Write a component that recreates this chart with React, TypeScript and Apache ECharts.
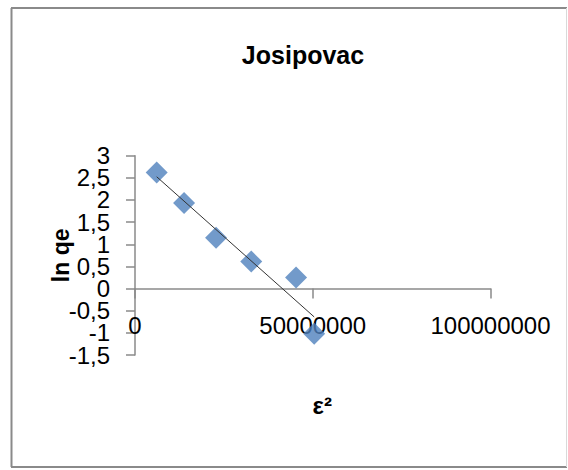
import React, { useEffect, useRef } from "react";
import * as echarts from "echarts";

const titleText = "Josipovac";
const xName = "ε²";
const yName = "ln qe";
const epsilonSquared = [6100000, 13800000, 22800000, 32700000, 45300000, 50400000];
const lnQe = [2.62, 1.93, 1.15, 0.61, 0.25, -1.02];
const yTicks = { min: -1.5, max: 3, interval: 0.5 };
const yLabelsA = [-1.5, -0.5, 0.5, 1.5, 2.5];
const yLabelsB = [-1, 0, 1, 2, 3];
const xTicks = { min: 0, max: 100000000, interval: 50000000 };

function regression(xs: number[], ys: number[]) {
  const n = xs.length;
  const mx = xs.reduce((a, b) => a + b, 0) / n;
  const my = ys.reduce((a, b) => a + b, 0) / n;
  let sxy = 0;
  let sxx = 0;
  for (let i = 0; i < n; i++) {
    sxy += (xs[i] - mx) * (ys[i] - my);
    sxx += (xs[i] - mx) * (xs[i] - mx);
  }
  const slope = sxy / sxx;
  return { slope, intercept: my - slope * mx };
}

export default function App() {
  const ref = useRef<HTMLDivElement>(null);
  useEffect(() => {
    if (!ref.current) return;
    const chart = echarts.init(ref.current, undefined, { renderer: "svg" });
    const { slope, intercept } = regression(epsilonSquared, lnQe);
    const x0 = Math.min(...epsilonSquared);
    const x1 = Math.max(...epsilonSquared);
    const font = "'Liberation Sans', Arial, sans-serif";
    const axisColor = "#8a8a8a";
    const yLabelBase = {
      margin: 25,
      fontFamily: font,
      fontSize: 24,
      lineHeight: 14,
      color: "#000",
      showMinLabel: true,
      showMaxLabel: true,
      hideOverlap: false,
      formatter: (v: number) => String(v).replace(".", ","),
    };
    chart.setOption({
      animation: false,
      backgroundColor: "#fff",
      title: {
        text: titleText,
        left: 298,
        top: 37,
        textAlign: "center",
        textStyle: { fontFamily: font, fontSize: 25, fontWeight: "bold", color: "#000" },
      },
      grid: { left: 135, right: 77.5, top: 155.7, bottom: 115, outerBoundsMode: "none", containLabel: false },
      xAxis: {
        type: "value",
        min: xTicks.min,
        max: xTicks.max,
        interval: xTicks.interval,
        name: xName,
        nameLocation: "middle",
        nameGap: 38,
        nameMoveOverlap: false,
        nameTextStyle: { fontFamily: font, fontSize: 24, fontWeight: "bold", color: "#000", padding: [0, 0, 0, 19] },
        axisLine: { onZero: true, onZeroAxisIndex: 0, lineStyle: { color: axisColor, width: 1.5 } },
        axisTick: { show: true, length: 10, lineStyle: { color: axisColor, width: 1.5 } },
        axisLabel: {
          margin: -42,
          fontFamily: font,
          fontSize: 24,
          color: "#000",
          showMinLabel: true,
          showMaxLabel: true,
          hideOverlap: false,
          formatter: (v: number) => String(v),
        },
        splitLine: { show: false },
      },
      yAxis: [
        {
          type: "value",
          position: "left",
          min: yTicks.min,
          max: yTicks.max,
          interval: yTicks.interval,
          name: yName,
          nameLocation: "middle",
          nameGap: 63,
          nameMoveOverlap: false,
          nameTextStyle: { fontFamily: font, fontSize: 23, fontWeight: "bold", color: "#000" },
          axisLine: { show: true, onZero: false, lineStyle: { color: axisColor, width: 1.5 } },
          axisTick: { show: true, length: 9, lineStyle: { color: axisColor, width: 1.5 } },
          axisLabel: { ...yLabelBase, customValues: yLabelsA },
          splitLine: { show: false },
        },
        {
          type: "value",
          position: "left",
          offset: 0,
          min: yTicks.min,
          max: yTicks.max,
          interval: yTicks.interval,
          axisLine: { show: false, onZero: false },
          axisTick: { show: false },
          axisLabel: { ...yLabelBase, customValues: yLabelsB },
          splitLine: { show: false },
        },
      ],
      series: [
        {
          type: "scatter",
          data: epsilonSquared.map((x, i) => [x, lnQe[i]]),
          symbol: "diamond",
          symbolSize: 22,
          itemStyle: { color: "#4F81BD" },
          z: 2,
        },
        {
          type: "line",
          data: [
            [x0, intercept + slope * x0],
            [x1, intercept + slope * x1],
          ],
          symbol: "none",
          lineStyle: { color: "#333", width: 1 },
          z: 3,
        },
      ],
      graphic: [
        { type: "line", shape: { x1: 11.5, y1: 8, x2: 11.5, y2: 467 }, style: { stroke: "#8a8a8a", lineWidth: 2 } },
        { type: "line", shape: { x1: 11, y1: 8, x2: 567, y2: 8 }, style: { stroke: "#8a8a8a", lineWidth: 2 } },
        { type: "line", shape: { x1: 11, y1: 467, x2: 567, y2: 467 }, style: { stroke: "#8a8a8a", lineWidth: 2 } },
        { type: "line", shape: { x1: 566.5, y1: 8, x2: 566.5, y2: 467 }, style: { stroke: "#d9d9d9", lineWidth: 1 } },
      ],
    });
    return () => chart.dispose();
  }, []);
  return (
    <div
      ref={ref}
      style={{ position: "absolute", left: 0, top: 0, width: 568, height: 470 }}
    />
  );
}
